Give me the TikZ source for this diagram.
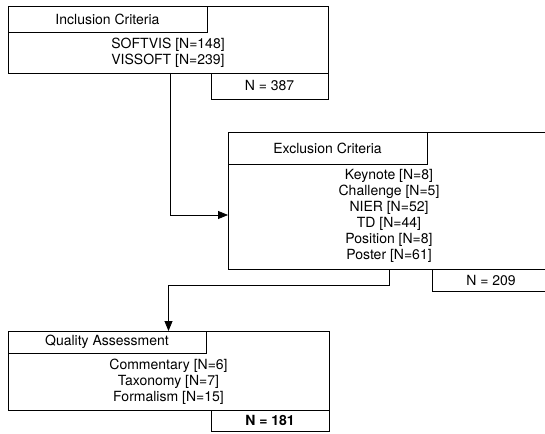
\documentclass[tikz,border=0pt]{standalone}
\usepackage{fontspec}
\setmainfont{TeX Gyre Heros}
\usetikzlibrary{arrows.meta}
\begin{document}
\begin{tikzpicture}[x=1pt,y=-1pt,
  box/.style={draw, line width=0.8pt, rectangle, inner sep=0pt, outer sep=0pt, anchor=north west, font=\fontsize{14}{16}\selectfont},
  txt/.style={font=\fontsize{14}{16}\selectfont, align=center, inner sep=0pt},
  conn/.style={draw, line width=0.8pt},
  arr/.style={-{Triangle[length=10pt,width=8pt]}}]
\useasboundingbox (0,0) rectangle (545,433);
% Inclusion
\node[box, minimum width=320pt, minimum height=67pt] (inbox) at (8,6) {};
\node[box, minimum width=199pt, minimum height=26pt] (inhead) at (8,6) {Inclusion Criteria};
\node[txt] (inbody) at (168,52.5) {SOFTVIS [N=148]\\VISSOFT [N=239]};
\node[box, minimum width=117pt, minimum height=26pt] (incount) at (211,73) {N = 387};
% Exclusion
\node[box, minimum width=322pt, minimum height=137pt] (exbox) at (228,132) {};
\node[box, minimum width=199pt, minimum height=32pt] (exhead) at (228,132) {Exclusion Criteria};
\node[txt] (exbody) at (389,215.5) {Keynote [N=8]\\Challenge [N=5]\\NIER [N=52]\\TD [N=44]\\Position [N=8]\\Poster [N=61]};
\node[box, minimum width=118pt, minimum height=22pt] (excount) at (432,269) {N = 209};
% Quality
\node[box, minimum width=321pt, minimum height=79pt] (qbox) at (8,331) {};
\node[box, minimum width=198pt, minimum height=22pt] (qhead) at (8,331) {Quality Assessment};
\node[txt] (qbody) at (168.5,382) {Commentary [N=6]\\Taxonomy [N=7]\\Formalism [N=15]};
\node[box, minimum width=118pt, minimum height=21pt] (qcount) at (211,410) {\textbf{N = 181}};
% Connectors
\coordinate (k1) at (170,215);
\draw[conn,arr] (inbox.south -| k1) |- (exbox.west |- k1);
\coordinate (k2) at (389,285);
\draw[conn,arr] (exbox.south -| k2) -- (k2) -| (qbox.north);
\end{tikzpicture}
\end{document}
